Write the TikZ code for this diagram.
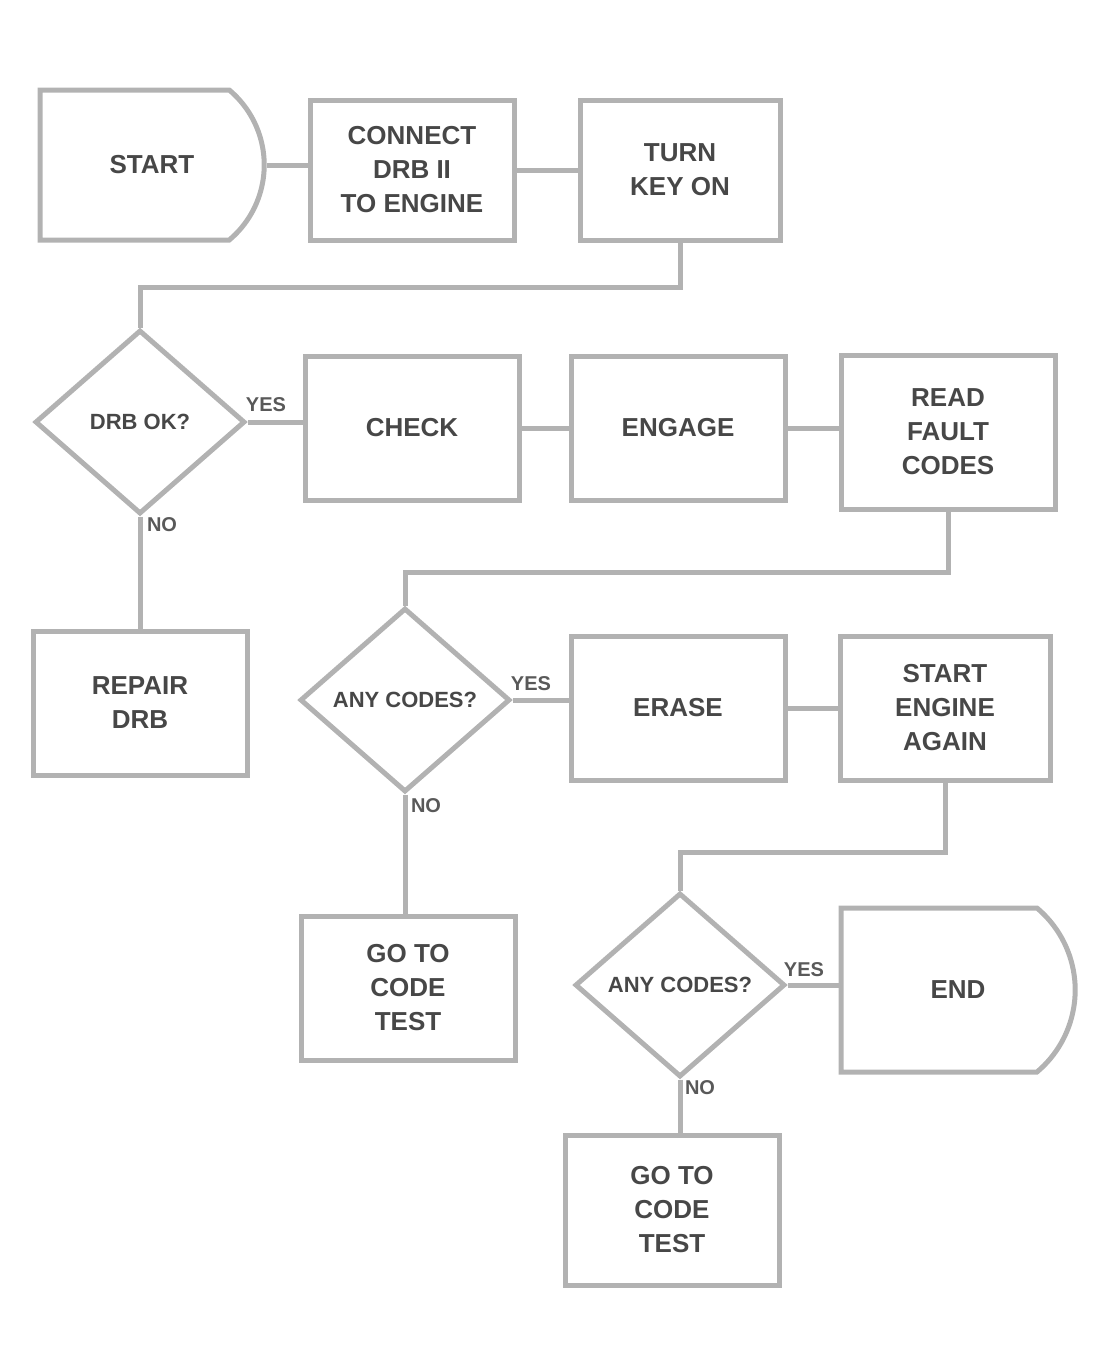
\documentclass[tikz,border=0pt]{standalone}
\usepackage{fontspec}
\setmainfont{Liberation Sans}
\usetikzlibrary{shapes.geometric,shapes.misc}
\begin{document}
\begin{tikzpicture}[x=0.5pt,y=-0.5pt,
  line/.style={draw=black!30, line width=2.5pt},
  txt/.style={align=center, font=\fontsize{13}{17}\selectfont\bfseries, text=black!72},
  box/.style={line, txt, rectangle, inner sep=0pt},
  term/.style={line, txt, rounded rectangle, rounded rectangle west arc=none,
     rounded rectangle arc length=100, inner sep=0pt},
  dec/.style={line, txt, diamond, minimum width=105pt, minimum height=92pt, inner sep=0pt,
     font=\fontsize{11}{14}\selectfont\bfseries},
  lab/.style={font=\fontsize{10}{12}\selectfont\bfseries, text=black!65}
]
\useasboundingbox (0,0) rectangle (1109,1357);

% row 1
\node[term, minimum width=112pt, minimum height=75pt] (A) at (152,165) {START};
\node[box, minimum width=102pt, minimum height=70pt] (B) at (412,170) {CONNECT\\DRB II\\TO ENGINE};
\node[box, minimum width=100pt, minimum height=70pt] (C) at (680,170) {TURN\\KEY ON};

% row 2
\node[dec] (D1) at (140,422) {DRB OK?};
\node[box, minimum width=107pt, minimum height=72pt] (E) at (412,428) {CHECK};
\node[box, minimum width=107pt, minimum height=72pt] (F) at (678,428) {ENGAGE};
\node[box, minimum width=107pt, minimum height=77pt] (G) at (948,432) {READ\\FAULT\\CODES};
\node[box, minimum width=107pt, minimum height=72pt] (H) at (140,703) {REPAIR\\DRB};

% row 3
\node[dec] (D2) at (405,700) {ANY CODES?};
\node[box, minimum width=107pt, minimum height=72pt] (I) at (678,708) {ERASE};
\node[box, minimum width=105pt, minimum height=72pt] (J) at (945,708) {START\\ENGINE\\AGAIN};
\node[box, minimum width=107pt, minimum height=72pt] (K) at (408,988) {GO TO\\CODE\\TEST};

% row 4
\node[dec] (D3) at (680,985) {ANY CODES?};
\node[term, minimum width=117pt, minimum height=82pt] (L) at (958,990) {END};
\node[box, minimum width=107pt, minimum height=75pt] (M) at (672,1210) {GO TO\\CODE\\TEST};

% connectors
\draw[line] (A.east) -- (A.east -| B.west);
\draw[line] (B.east) -- (B.east -| C.west);
\coordinate (p1) at (680,287);
\coordinate (p2) at (140,287);
\draw[line] (C.south) -- (p1) -- (p2) -- (D1.north);

\draw[line] (D1.east) -- (D1.east -| E.west);
\draw[line] (E) -- (F);
\draw[line] (F.east) -- (F.east -| G.west);
\draw[line] (D1.south) -- (D1.south |- H.north);
\coordinate (p3) at (948,572);
\coordinate (p4) at (405,572);
\draw[line] (G.south) -- (p3) -- (p4) -- (D2.north);

\draw[line] (D2.east) -- (D2.east -| I.west);
\draw[line] (I.east) -- (I.east -| J.west);
\draw[line] (D2.south) -- (D2.south |- K.north);
\coordinate (p5) at (945,852);
\coordinate (p6) at (680,852);
\draw[line] (J.south) -- (p5) -- (p6) -- (D3.north);

\draw[line] (D3.east) -- (D3.east -| L.west);
\draw[line] (D3.south) -- (D3.south |- M.north);

% labels
\node[lab] (l1) at (266,405) {YES};
\node[lab] (l2) at (162,525) {NO};
\node[lab] (l3) at (531,684) {YES};
\node[lab] (l4) at (426,806) {NO};
\node[lab] (l5) at (804,970) {YES};
\node[lab] (l6) at (700,1088) {NO};
\end{tikzpicture}
\end{document}
